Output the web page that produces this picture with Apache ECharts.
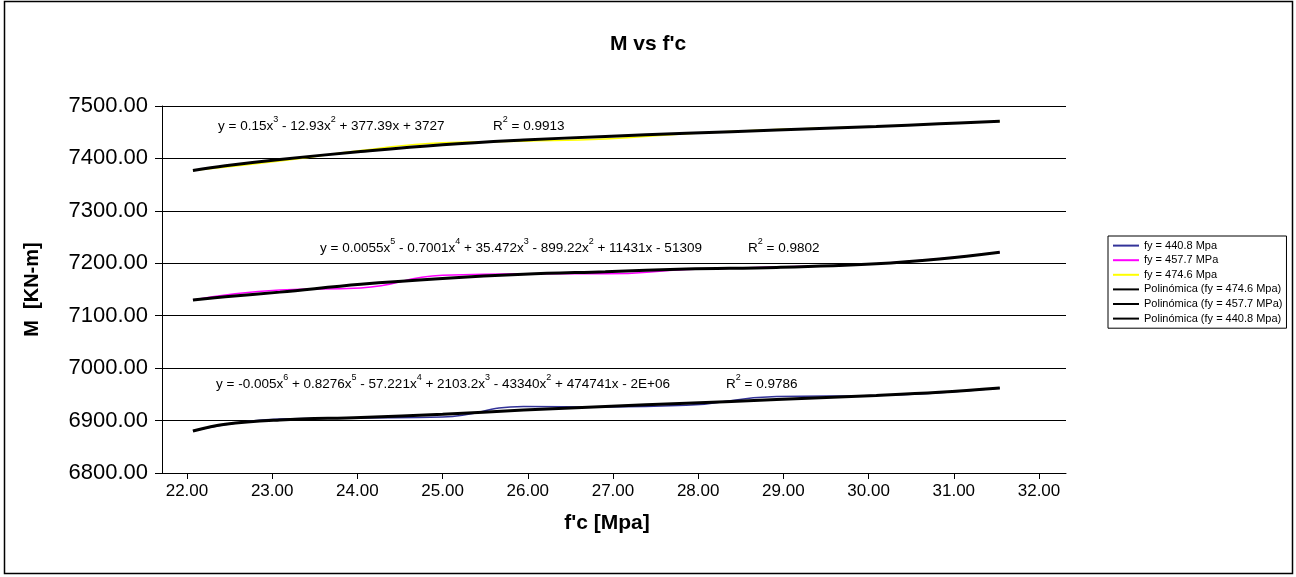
<!DOCTYPE html>
<html>
<head>
<meta charset="utf-8">
<script src="https://cdn.jsdelivr.net/npm/echarts@6/dist/echarts.min.js"></script>
<style>
  html, body { margin: 0; padding: 0; background: #fff; }
  #chart { width: 1296px; height: 577px; }
</style>
</head>
<body>
<div id="chart"></div>
<script>
// f'c values [MPa] shared by the three measured series
const fc = [22.07, 23.09, 24.04, 25.00, 25.95, 26.91, 27.86, 28.92, 30.09, 31.54];

// Moment M [KN-m] for each steel yield strength
const m440 = [6880, 6903, 6905, 6907, 6927, 6926, 6929, 6946, 6948, 6962];
const m457 = [7130, 7149, 7153, 7177, 7180, 7180, 7188, 7193, 7199, 7221];
const m474 = [7377, 7395, 7415, 7430, 7433, 7437, 7447, 7455, 7461, 7471];

// Polynomial trend curves, sampled along f'c
const trendFc   = [22.07, 22.45, 23.09, 24.04, 25.00, 25.95, 26.91, 27.86, 28.92, 30.09, 30.83, 31.54];
const trend474  = [7377, 7386, 7398, 7413, 7426, 7435, 7442, 7448, 7454, 7461, 7466, 7471];
const trend457  = [7130, 7136, 7145, 7160, 7171, 7179, 7184, 7189, 7192, 7199, 7208, 7221];
const trend440  = [6880, 6893, 6901, 6906, 6912, 6920, 6927, 6933, 6940, 6948, 6954, 6962];

// Axis extents and labelled ticks
const xRange = { min: 21.707, max: 32.317 };
const xTickValues = [22, 23, 24, 25, 26, 27, 28, 29, 30, 31, 32];
const yTicks = { min: 6800, max: 7500, step: 100 };

// Trend equations and fit quality
const eq474 = 'y = 0.15x^3 - 12.93x^2 + 377.39x + 3727';
const eq457 = 'y = 0.0055x^5 - 0.7001x^4 + 35.472x^3 - 899.22x^2 + 11431x - 51309';
const eq440 = 'y = -0.005x^6 + 0.8276x^5 - 57.221x^4 + 2103.2x^3 - 43340x^2 + 474741x - 2E+06';
const r474 = 'R^2 = 0.9913';
const r457 = 'R^2 = 0.9802';
const r440 = 'R^2 = 0.9786';

const FONT = '"Liberation Sans", Arial, sans-serif';

const pairs = (xs, ys) => xs.map((x, i) => [x, ys[i]]);

// turn "x^3" into rich-text superscript tokens
function richText(s) {
  const parts = s.split(/\^(\d)/);
  let out = '';
  parts.forEach((p, i) => {
    if (i % 2 === 1) out += '{s|' + p + '}';
    else if (p.length) out += '{n|' + p + '}';
  });
  return out;
}
const richStyle = {
  n: { fontSize: 13.5, fontFamily: FONT, color: '#000', lineHeight: 18, verticalAlign: 'bottom' },
  s: { fontSize: 9, fontFamily: FONT, color: '#000', lineHeight: 9, verticalAlign: 'top' }
};
function eqText(x, yc, s) {
  return {
    type: 'text', left: x, top: yc - 9, z: 50,
    style: { text: richText(s), rich: richStyle }
  };
}

const chart = echarts.init(document.getElementById('chart'), null, { renderer: 'canvas' });

const rawLine = (name, ys, color) => ({
  name, type: 'line', data: pairs(fc, ys), smooth: 0.5, symbol: 'none',
  lineStyle: { color, width: 1.5 }, itemStyle: { color }, z: 2
});
const trendLine = (name, ys) => ({
  name, type: 'line', data: pairs(trendFc, ys), smooth: 0.4, symbol: 'none',
  lineStyle: { color: '#000', width: 3 }, itemStyle: { color: '#000' }, z: 3
});

chart.setOption({
  animation: false,
  backgroundColor: '#fff',
  title: {
    text: "M vs f'c", left: 'center', top: 29,
    textStyle: { fontFamily: FONT, fontSize: 21, fontWeight: 'bold', color: '#000' }
  },
  grid: { left: 162, right: 230, top: 106, bottom: 104, containLabel: false },
  legend: {
    orient: 'vertical', left: 1108, top: 236,
    itemWidth: 26, itemHeight: 14, itemGap: 3.4,
    padding: [4, 4, 4, 4],
    borderColor: '#000', borderWidth: 1, backgroundColor: '#fff',
    itemStyle: { opacity: 0 },
    textStyle: { fontFamily: FONT, fontSize: 11, color: '#000' },
    data: ['fy = 440.8 Mpa', 'fy = 457.7 MPa', 'fy = 474.6 Mpa',
           'Polinómica (fy = 474.6 Mpa)', 'Polinómica (fy = 457.7 MPa)', 'Polinómica (fy = 440.8 Mpa)']
  },
  xAxis: {
    type: 'value', min: xRange.min, max: xRange.max,
    name: "f'c [Mpa]", nameLocation: 'middle', nameGap: 40,
    nameTextStyle: { fontFamily: FONT, fontSize: 21, fontWeight: 'bold', color: '#000',
                     padding: [0, 14, 0, 0] },
    axisLine: { show: true, onZero: false, lineStyle: { color: '#000', width: 1 } },
    axisTick: { show: true, inside: false, length: 6, customValues: xTickValues,
                lineStyle: { color: '#000' } },
    axisLabel: { fontFamily: FONT, fontSize: 17, color: '#000', margin: 10,
                 customValues: xTickValues, formatter: v => v.toFixed(2) },
    splitLine: { show: false }
  },
  yAxis: {
    type: 'value', min: yTicks.min, max: yTicks.max, interval: yTicks.step,
    name: 'M  [KN-m]', nameLocation: 'middle', nameGap: 120, nameRotate: 90,
    nameTextStyle: { fontFamily: FONT, fontSize: 20, fontWeight: 'bold', color: '#000' },
    axisLine: { show: true, lineStyle: { color: '#000', width: 1 } },
    axisTick: { show: true, inside: false, length: 7, lineStyle: { color: '#000' } },
    axisLabel: { fontFamily: FONT, fontSize: 22, color: '#000', margin: 14,
                 formatter: v => v.toFixed(2) },
    splitLine: { show: true, lineStyle: { color: '#000', width: 1 } }
  },
  graphic: [
    { type: 'rect', shape: { x: 4.5, y: 1.5, width: 1288, height: 572 },
      style: { fill: 'none', stroke: '#000', lineWidth: 1.5 }, silent: true, z: -1 },
    eqText(218, 124, eq474), eqText(493, 124, r474),
    eqText(320, 246, eq457), eqText(748, 246, r457),
    eqText(216, 382, eq440), eqText(726, 382, r440)
  ],
  series: [
    rawLine('fy = 440.8 Mpa', m440, '#333399'),
    rawLine('fy = 457.7 MPa', m457, '#FF00FF'),
    rawLine('fy = 474.6 Mpa', m474, '#FFFF00'),
    trendLine('Polinómica (fy = 474.6 Mpa)', trend474),
    trendLine('Polinómica (fy = 457.7 MPa)', trend457),
    trendLine('Polinómica (fy = 440.8 Mpa)', trend440)
  ]
});
</script>
</body>
</html>
